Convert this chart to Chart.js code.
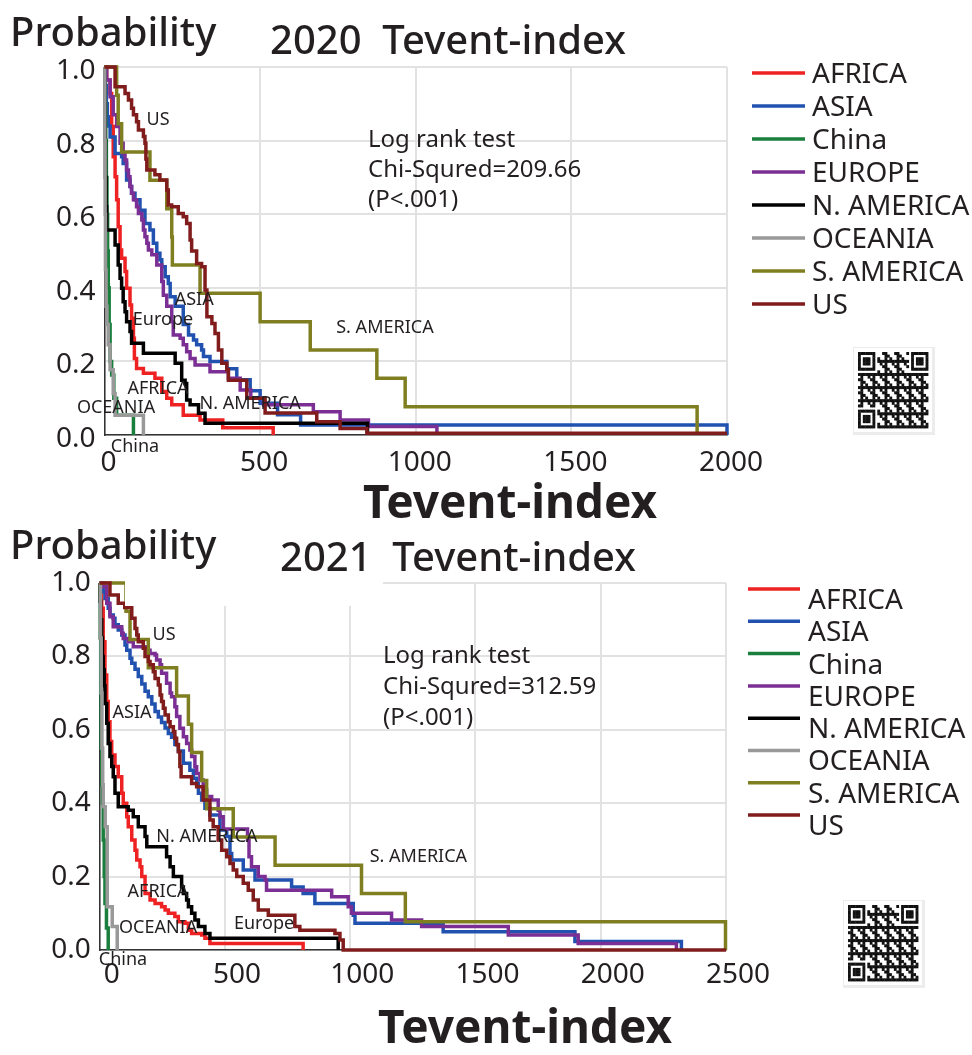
<!DOCTYPE html>
<html>
<head>
<meta charset="utf-8">
<script src="https://cdn.jsdelivr.net/npm/chart.js@4.4.1/dist/chart.umd.min.js"></script>
<style>
  html, body { margin: 0; padding: 0; background: #fff; }
  canvas { display: block; }
</style>
</head>
<body>
<canvas id="chart2020" width="972" height="520"></canvas>
<canvas id="chart2021" width="972" height="535"></canvas>
<script>
// groups, in legend order
const regions = ['AFRICA', 'ASIA', 'China', 'EUROPE', 'N. AMERICA', 'OCEANIA', 'S. AMERICA', 'US'];
const colors = ['#ee2222', '#2152b0', '#1a7f3c', '#7b2f94', '#000000', '#999999', '#7f7f22', '#801c1c'];

// x axis ticks
const xTicks2020 = [0, 500, 1000, 1500, 2000];
const xTicks2021 = [0, 500, 1000, 1500, 2000, 2500];

// 2020 survival curves: [Tevent-index, probability] after each step
const africa2020 = [[0,1],[7,0.965],[18,0.928],[23,0.838],[28,0.756],[34,0.702],[39,0.639],[44,0.566],[50,0.503],[55,0.48],[66,0.444],[71,0.399],[82,0.353],[87,0.317],[93,0.263],[96,0.208],[103,0.181],[125,0.168],[162,0.154],[184,0.118],[200,0.1],[216,0.082],[253,0.054],[307,0.041],[380,0.02],[542,0]];
const asia2020 = [[0,1],[3,0.95],[6,0.9],[9,0.865],[12,0.84],[18,0.81],[34,0.765],[55,0.756],[60,0.738],[71,0.693],[82,0.675],[87,0.657],[98,0.639],[114,0.611],[130,0.575],[146,0.557],[157,0.521],[168,0.494],[178,0.476],[184,0.457],[195,0.43],[205,0.412],[211,0.376],[227,0.35],[253,0.3],[270,0.272],[286,0.258],[296,0.245],[312,0.231],[318,0.213],[339,0.2],[393,0.18],[425,0.15],[468,0.12],[500,0.086],[556,0.055],[630,0.027],[2000,0]];
const china2020 = [[0,1],[2,0.9],[4,0.8],[6,0.7],[8,0.6],[10,0.5],[12,0.4],[15,0.3],[18,0.2],[23,0.163],[30,0.1],[39,0.054],[93,0]];
const europe2020 = [[0,1],[7,0.965],[18,0.919],[28,0.87],[39,0.838],[50,0.793],[60,0.765],[66,0.747],[71,0.72],[77,0.702],[82,0.675],[87,0.657],[93,0.639],[103,0.62],[109,0.602],[120,0.584],[125,0.557],[130,0.539],[136,0.521],[141,0.503],[152,0.49],[168,0.462],[184,0.417],[189,0.38],[200,0.35],[216,0.308],[221,0.272],[243,0.263],[253,0.245],[264,0.226],[275,0.208],[291,0.19],[339,0.172],[398,0.154],[436,0.122],[470,0.1],[511,0.082],[671,0.063],[757,0.041],[848,0.023],[1068,0]];
const nAmerica2020 = [[0,1],[1,0.9],[2,0.8],[3,0.7],[5,0.62],[7,0.557],[34,0.516],[44,0.462],[50,0.426],[55,0.399],[60,0.362],[66,0.335],[71,0.308],[82,0.281],[87,0.249],[125,0.222],[227,0.195],[248,0.149],[259,0.14],[264,0.095],[275,0.082],[302,0.059],[323,0.032],[845,0]];
const oceania2020 = [[0,1],[1,0.8],[2,0.6],[3,0.45],[5,0.35],[8,0.3],[12,0.245],[18,0.177],[28,0.113],[34,0.054],[125,0]];
const sAmerica2020 = [[0,1],[39,0.923],[44,0.846],[55,0.769],[146,0.692],[200,0.615],[216,0.538],[218,0.462],[307,0.385],[500,0.308],[661,0.231],[875,0.154],[966,0.077],[1904,0]];
const us2020 = [[0,1],[34,0.946],[66,0.928],[77,0.91],[87,0.888],[93,0.87],[103,0.851],[109,0.829],[125,0.811],[130,0.793],[133,0.75],[136,0.72],[162,0.707],[178,0.693],[200,0.666],[205,0.625],[216,0.62],[237,0.602],[253,0.593],[264,0.575],[275,0.53],[280,0.5],[296,0.466],[312,0.457],[323,0.394],[329,0.321],[345,0.303],[355,0.276],[366,0.231],[377,0.195],[393,0.177],[398,0.149],[457,0.1],[516,0.06],[682,0.036],[757,0.018],[843,0.005],[2000,0.005]];

// 2021 survival curves
const africa2021 = [[0,1],[4,0.97],[8,0.931],[14,0.84],[21,0.749],[28,0.677],[34,0.622],[41,0.568],[48,0.531],[61,0.5],[74,0.472],[88,0.427],[94,0.4],[108,0.363],[114,0.336],[128,0.3],[141,0.272],[148,0.245],[161,0.227],[168,0.2],[181,0.154],[201,0.136],[221,0.127],[247,0.118],[261,0.109],[274,0.1],[300,0.091],[314,0.077],[340,0.073],[354,0.054],[367,0.045],[407,0.041],[420,0.032],[440,0.018],[812,0]];
const asia2021 = [[0,1],[14,0.976],[21,0.958],[34,0.931],[41,0.913],[54,0.904],[61,0.886],[74,0.872],[88,0.858],[101,0.831],[108,0.817],[121,0.795],[128,0.781],[141,0.765],[154,0.745],[168,0.725],[181,0.705],[194,0.69],[208,0.67],[221,0.65],[234,0.635],[247,0.62],[261,0.605],[274,0.59],[287,0.58],[300,0.56],[314,0.542],[334,0.509],[360,0.49],[374,0.468],[387,0.454],[394,0.427],[407,0.409],[420,0.386],[440,0.368],[480,0.327],[507,0.309],[520,0.263],[527,0.245],[573,0.218],[620,0.191],[766,0.172],[812,0.154],[859,0.127],[1012,0.095],[1019,0.073],[1371,0.05],[1897,0.023],[2322,0]];
const china2021 = [[0,1],[2,0.85],[4,0.7],[6,0.55],[8,0.45],[11,0.4],[14,0.3],[18,0.2],[21,0.127],[27,0.06],[34,0]];
const europe2021 = [[0,1],[14,0.99],[28,0.945],[41,0.908],[54,0.881],[88,0.863],[94,0.849],[114,0.84],[134,0.826],[194,0.817],[201,0.808],[221,0.804],[227,0.79],[241,0.777],[247,0.754],[267,0.727],[281,0.7],[287,0.69],[300,0.663],[307,0.636],[320,0.604],[334,0.581],[347,0.563],[360,0.545],[367,0.527],[380,0.499],[387,0.481],[400,0.463],[413,0.436],[427,0.418],[447,0.409],[473,0.381],[480,0.363],[493,0.33],[590,0.3],[596,0.254],[606,0.227],[633,0.2],[660,0.191],[666,0.163],[926,0.145],[992,0.118],[1005,0.1],[1165,0.082],[1285,0.064],[1631,0.041],[1910,0.018],[2302,0]];
const nAmerica2021 = [[0,1],[2,0.95],[4,0.9],[8,0.85],[11,0.8],[14,0.763],[18,0.72],[21,0.672],[28,0.618],[34,0.563],[41,0.527],[48,0.5],[54,0.472],[61,0.427],[74,0.39],[114,0.381],[134,0.363],[154,0.336],[181,0.309],[188,0.281],[267,0.254],[281,0.227],[294,0.2],[327,0.172],[334,0.154],[347,0.136],[354,0.118],[367,0.1],[380,0.082],[394,0.064],[420,0.045],[440,0.032],[952,0]];
const oceania2021 = [[0,1],[3,0.85],[6,0.7],[9,0.55],[12,0.45],[14,0.39],[22,0.336],[30,0.118],[50,0.064],[70,0]];
const sAmerica2021 = [[0,1],[105,0.923],[121,0.846],[194,0.769],[307,0.692],[354,0.615],[367,0.538],[407,0.462],[427,0.385],[533,0.308],[700,0.231],[1045,0.154],[1220,0.077],[2498,0]];
const us2021 = [[0,1],[41,0.967],[74,0.945],[100,0.933],[128,0.904],[141,0.876],[148,0.858],[154,0.84],[174,0.822],[181,0.8],[194,0.786],[201,0.777],[214,0.758],[221,0.74],[234,0.722],[241,0.695],[247,0.677],[254,0.659],[261,0.64],[274,0.622],[281,0.608],[294,0.595],[300,0.577],[307,0.559],[314,0.54],[320,0.5],[325,0.472],[367,0.454],[387,0.445],[413,0.409],[440,0.354],[453,0.336],[473,0.3],[487,0.272],[507,0.254],[520,0.236],[533,0.218],[547,0.2],[573,0.182],[593,0.163],[613,0.136],[633,0.109],[673,0.095],[779,0.064],[799,0.054],[939,0.045],[959,0.027],[972,0],[2500,0]];

const ink = '#231f20';
const fam = '"Noto Sans", "Open Sans", sans-serif';

// fake QR block (decoration only)
function drawQR(ctx, x, y, w, h) {
  ctx.fillStyle = '#ececec';
  ctx.fillRect(x - 5, y - 5, w + 12, h + 12);
  ctx.fillStyle = '#fff';
  ctx.fillRect(x - 4, y - 4, w + 8, h + 8);
  const n = 29, mx = w / n, my = h / n;
  ctx.fillStyle = '#111';
  for (let r = 0; r < n; r++) {
    for (let c = 0; c < n; c++) {
      let on;
      const inR = r < 8 || r >= n - 8, inC = c < 8 || c >= n - 8;
      if (inR && inC && !(r >= n - 8 && c >= n - 8)) {
        const rr = r < 8 ? r : r - (n - 7), cc = c < 8 ? c : c - (n - 7);
        if (rr < 0 || rr > 6 || cc < 0 || cc > 6) on = false;
        else on = Math.max(Math.abs(rr - 3), Math.abs(cc - 3)) !== 2;
      } else {
        on = ((r * 7 + c * 11 + r * c * 3) % 5) < 2;
      }
      if (on) ctx.fillRect(x + c * mx, y + r * my, mx + 0.4, my + 0.4);
    }
  }
}

// titles, in-plot labels, log rank text, legend
const decor = {
  id: 'decor',
  afterDatasetsDraw(chart, args, o) {
    const ctx = chart.ctx, xs = chart.scales.x, ys = chart.scales.y;
    ctx.save();
    if (o.cover) {
      ctx.fillStyle = '#fff';
      ctx.fillRect(o.cover[0], o.cover[1], o.cover[2], o.cover[3]);
    }
    ctx.fillStyle = ink;
    ctx.textBaseline = 'middle';

    ctx.font = '18px ' + fam;
    ctx.textAlign = 'center';
    o.labels.forEach(([txt, t, s]) => ctx.fillText(txt, xs.getPixelForValue(t), ys.getPixelForValue(s)));

    ctx.font = '24px ' + fam;
    ctx.textAlign = 'left';
    o.test.forEach((line, i) => ctx.fillText(line, o.testAt[0], o.testAt[1] + i * o.testAt[2]));

    ctx.font = '500 40px ' + fam;
    ctx.fillText('Probability', o.probAt[0], o.probAt[1]);
    ctx.fillText(o.title, o.titleAt[0], o.titleAt[1]);

    ctx.font = 'bold 46px ' + fam;
    ctx.textAlign = 'center';
    ctx.fillText('Tevent-index', o.xTitleAt[0], o.xTitleAt[1]);

    const lg = o.legend;
    ctx.textAlign = 'left';
    ctx.font = '28px ' + fam;
    chart.data.datasets.forEach((ds, i) => {
      const y = lg.y + i * lg.dy;
      ctx.strokeStyle = ds.borderColor;
      ctx.lineWidth = 3.5;
      ctx.beginPath();
      ctx.moveTo(lg.x0, y + lg.lineDy);
      ctx.lineTo(lg.x1, y + lg.lineDy);
      ctx.stroke();
      ctx.fillStyle = ink;
      ctx.fillText(ds.label, lg.tx, y);
    });

    drawQR(ctx, o.qr[0], o.qr[1], o.qr[2], o.qr[3]);
    ctx.restore();
  }
};

function survivalChart(id, series, ticks, opt) {
  const axisFont = { size: 28, family: fam };
  return new Chart(document.getElementById(id), {
    type: 'line',
    data: {
      datasets: series.map((pts, i) => ({
        label: regions[i],
        data: pts.map(p => ({ x: p[0], y: p[1] })),
        borderColor: colors[i],
        borderWidth: 3.5,
        stepped: true,
        pointRadius: 0,
        fill: false,
        clip: 6,
        order: series.length - i
      }))
    },
    options: {
      responsive: false,
      animation: false,
      events: [],
      layout: { padding: opt.padding },
      plugins: {
        legend: { display: false },
        tooltip: { enabled: false },
        decor: opt.decor
      },
      scales: {
        x: {
          type: 'linear',
          min: ticks[0],
          max: ticks[ticks.length - 1],
          afterFit: s => { s.height = opt.xHeight; },
          afterBuildTicks: s => { s.ticks = ticks.map(v => ({ value: v })); },
          ticks: { padding: opt.xPad, labelOffset: opt.xLabelOffset, callback: v => String(v), font: axisFont, color: ink, maxRotation: 0, autoSkip: false },
          grid: { color: '#e2e2e2', lineWidth: 2, drawTicks: false },
          border: { color: '#333', width: 1.5 }
        },
        y: {
          min: 0,
          max: 1,
          afterFit: s => { s.width = opt.yWidth; },
          ticks: { stepSize: 0.2, padding: 9, labelOffset: opt.yLabelOffset, callback: v => v.toFixed(1), font: axisFont, color: ink },
          grid: { color: '#e2e2e2', lineWidth: 2, drawTicks: false },
          border: { color: '#333', width: 1.5 }
        }
      }
    },
    plugins: [decor]
  });
}

survivalChart('chart2020',
  [africa2020, asia2020, china2020, europe2020, nAmerica2020, oceania2020, sAmerica2020, us2020],
  xTicks2020,
  {
    padding: { top: 67, right: 245, bottom: 0, left: 0 },
    yWidth: 104.5, xHeight: 85, xPad: 11, xLabelOffset: 4, yLabelOffset: 4,
    decor: {
      title: '2020  Tevent-index', titleAt: [270, 43], probAt: [10, 35], xTitleAt: [510, 505],
      test: ['Log rank test', 'Chi-Squred=209.66', '(P<.001)'], testAt: [368, 140, 30],
      labels: [['US', 172, 0.856], ['ASIA', 288, 0.367], ['Europe', 188, 0.313], ['AFRICA', 172, 0.125],
               ['OCEANIA', 37, 0.073], ['N. AMERICA', 468, 0.084], ['S. AMERICA', 901, 0.291], ['China', 98, -0.033]],
      legend: { x0: 752, x1: 805, tx: 812, y: 75, dy: 33, lineDy: -2 },
      qr: [858, 352, 70, 76]
    }
  });

survivalChart('chart2021',
  [africa2021, asia2021, china2021, europe2021, nAmerica2021, oceania2021, sAmerica2021, us2021],
  xTicks2021,
  {
    padding: { top: 63, right: 246, bottom: 0, left: 0 },
    yWidth: 99.7, xHeight: 105, xPad: 8, xLabelOffset: 12, yLabelOffset: 0,
    decor: {
      title: '2021  Tevent-index', titleAt: [280, 40], probAt: [10, 28], xTitleAt: [525, 510],
      test: ['Log rank test', 'Chi-Squred=312.59', '(P<.001)'], testAt: [383, 136, 31],
      labels: [['US', 257, 0.858], ['ASIA', 129, 0.646], ['N. AMERICA', 428, 0.308], ['AFRICA', 233, 0.158],
               ['OCEANIA', 233, 0.06], ['Europe', 656, 0.071], ['S. AMERICA', 1272, 0.253], ['China', 93, -0.027]],
      legend: { x0: 748, x1: 800, tx: 808, y: 81, dy: 32.3, lineDy: -12 },
      cover: [125, 46, 258, 40],
      qr: [848, 385, 70, 76]
    }
  });
</script>
</body>
</html>
